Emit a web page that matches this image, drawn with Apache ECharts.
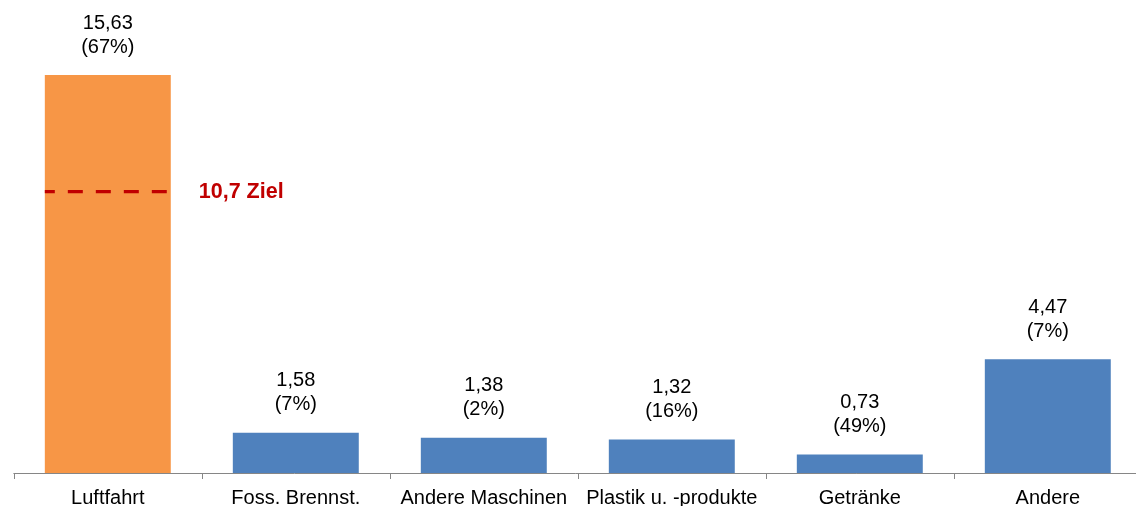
<!DOCTYPE html>
<html>
<head>
<meta charset="utf-8">
<script src="https://cdn.jsdelivr.net/npm/echarts@6/dist/echarts.min.js"></script>
<style>html,body{margin:0;padding:0;background:#fff}#c{width:1136px;height:506px}</style>
</head>
<body>
<div id="c"></div>
<script>
const categories = ['Luftfahrt', 'Foss. Brennst.', 'Andere Maschinen', 'Plastik u. -produkte', 'Getränke', 'Andere'];
const values = [15.63, 1.58, 1.38, 1.32, 0.73, 4.47];
const shares = [67, 7, 2, 16, 49, 7];
const barColors = ['#F79646', '#4F81BD', '#4F81BD', '#4F81BD', '#4F81BD', '#4F81BD'];
const zielLabel = '10,7 Ziel';
const zielLevel = 11.05;

const FONT = '"Liberation Sans", Arial, sans-serif';
const chart = echarts.init(document.getElementById('c'));
chart.setOption({
  animation: false,
  grid: { left: 13.8, top: 14.7, right: -5.8, height: 458.3, containLabel: false, outerBoundsMode: 'none' },
  xAxis: {
    type: 'category',
    data: categories,
    axisLine: { lineStyle: { color: '#868686', width: 1 } },
    axisTick: { show: true, length: 6, lineStyle: { color: '#868686' } },
    axisLabel: { color: '#000', fontSize: 20, fontFamily: FONT, margin: 15, interval: 0 }
  },
  yAxis: {
    type: 'value', min: 0, max: 18,
    show: false, splitLine: { show: false }
  },
  series: [
    {
      type: 'bar',
      barWidth: '67%',
      data: values.map((v, i) => ({ value: v, itemStyle: { color: barColors[i] } })),
      label: {
        show: true, position: 'top', distance: 16,
        color: '#000', fontSize: 20, fontFamily: FONT, lineHeight: 24,
        formatter: p => p.value.toFixed(2).replace('.', ',') + '\n(' + shares[p.dataIndex] + '%)'
      }
    },
    {
      type: 'custom',
      z: 5,
      data: [[0, zielLevel]],
      renderItem: (params, api) => {
        const c = api.coord([api.value(0), api.value(1)]);
        const bw = api.size([1, 0])[0] * 0.67;
        return {
          type: 'group',
          children: [
            { type: 'line', shape: { x1: c[0] - bw / 2, y1: c[1], x2: c[0] + bw / 2 - 4, y2: c[1] },
              style: { stroke: '#C00000', lineWidth: 3.3, lineDash: [15, 13], lineDashOffset: 5 } },
            { type: 'text', x: c[0] + bw / 2 + 28, y: c[1],
              style: { text: zielLabel, fill: '#C00000', fontSize: 21.5, fontWeight: 'bold', fontFamily: FONT, verticalAlign: 'middle', align: 'left' } }
          ]
        };
      }
    }
  ]
});
</script>
</body>
</html>
